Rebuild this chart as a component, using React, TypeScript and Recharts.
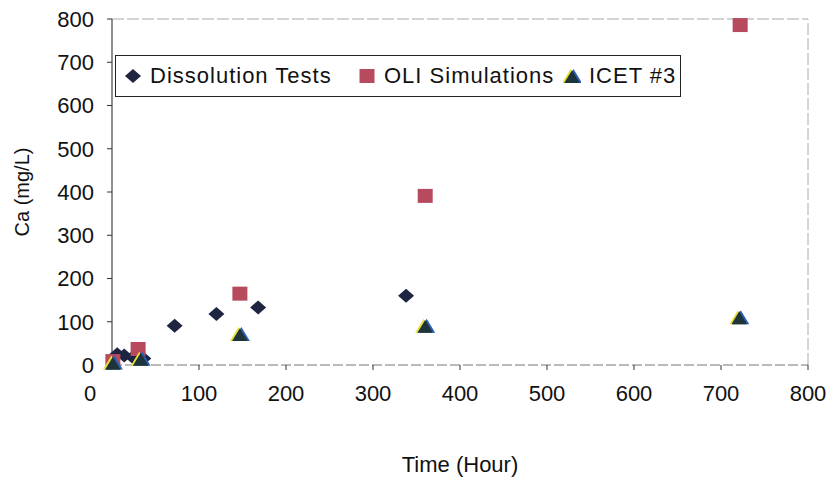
import React from 'react';
import { ScatterChart, Scatter, XAxis, YAxis, Legend, ReferenceLine } from 'recharts';

// Calcium release over time (hours vs mg/L)
const dissolutionHours = [6, 14, 24, 36, 72, 120, 168, 338];
const dissolutionCa = [25, 22, 18, 15, 91, 118, 133, 160];

const oliHours = [1, 30, 147, 360, 722];
const oliCa = [9, 37, 165, 391, 786];

const icetHours = [1, 33, 147, 360, 721];
const icetCa = [1, 10, 67, 86, 106];

const seriesNames = ['Dissolution Tests', 'OLI Simulations', 'ICET #3'];

const xTicks = [0, 100, 200, 300, 400, 500, 600, 700, 800];
const yTicks = [0, 100, 200, 300, 400, 500, 600, 700, 800];

const toPoints = (xs: number[], ys: number[]) => xs.map((x, i) => ({ x, y: ys[i] }));

const dissolutionData = toPoints(dissolutionHours, dissolutionCa);
const oliData = toPoints(oliHours, oliCa);
const icetData = toPoints(icetHours, icetCa);

const FONT = '"Liberation Sans", Arial, Helvetica, sans-serif';
const TEXT_COLOR = '#111';
const DIAMOND_COLOR = '#1e2540';
const SQUARE_COLOR = '#b84a5e';
const TRIANGLE_COLOR = '#1f3438';

function DiamondMark({ cx, cy }: any) {
  return (
    <polygon
      points={`${cx - 8},${cy} ${cx},${cy - 7} ${cx + 8},${cy} ${cx},${cy + 7}`}
      fill={DIAMOND_COLOR}
    />
  );
}

function SquareMark({ cx, cy }: any) {
  return <rect x={cx - 7.5} y={cy - 7} width={15} height={14} fill={SQUARE_COLOR} />;
}

function tri(cx: number, cy: number) {
  return `${cx},${cy - 9} ${cx - 8.5},${cy + 5} ${cx + 8.5},${cy + 5}`;
}

function TriangleMark({ cx, cy }: any) {
  return (
    <g>
      <polygon points={tri(cx - 1.5, cy)} fill="#e8e23a" />
      <polygon points={tri(cx + 1.5, cy)} fill="#2b5fb8" />
      <polygon
        points={tri(cx, cy + 0.5)}
        fill={TRIANGLE_COLOR}
        transform={`translate(${cx * 0.08},${cy * 0.08}) scale(0.92)`}
      />
    </g>
  );
}

function XTick({ x, y, payload }: any) {
  // the origin label sits a little left of its tick
  const shift = payload.value === 0 ? -22 : 0;
  return (
    <text x={x + shift} y={y} dy="0.71em" textAnchor="middle" fontSize={22} fill={TEXT_COLOR} fontFamily={FONT}>
      {payload.value}
    </text>
  );
}

function YTick({ x, y, payload }: any) {
  return (
    <text x={x} y={y} dy="0.355em" textAnchor="end" fontSize={22} fill={TEXT_COLOR} fontFamily={FONT}>
      {payload.value}
    </text>
  );
}

function LegendIcon({ name }: { name: string }) {
  return (
    <svg width={18} height={18} style={{ marginRight: 8, flex: 'none' }}>
      {name === seriesNames[0] && <DiamondMark cx={9} cy={9} />}
      {name === seriesNames[1] && <SquareMark cx={9} cy={9} />}
      {name === seriesNames[2] && <TriangleMark cx={9} cy={11} />}
    </svg>
  );
}

const itemWidths = [234, 205, undefined];

function LegendBox({ payload }: any) {
  const items = seriesNames
    .map((n) => (payload || []).find((p: any) => p.value === n))
    .filter(Boolean);
  return (
    <div
      style={{
        boxSizing: 'border-box',
        width: '100%',
        height: '100%',
        border: '1.5px solid #222',
        background: '#fff',
        display: 'flex',
        alignItems: 'center',
        paddingLeft: 8,
        fontFamily: FONT,
        fontSize: 22,
        letterSpacing: 1,
        color: TEXT_COLOR,
      }}
    >
      {items.map((item: any, i: number) => (
        <div
          key={item.value}
          style={{ display: 'flex', alignItems: 'center', width: itemWidths[i], flex: 'none' }}
        >
          <LegendIcon name={item.value} />
          <span style={{ whiteSpace: 'nowrap' }}>{item.value}</span>
        </div>
      ))}
    </div>
  );
}

export default function App() {
  return (
    <div style={{ position: 'absolute', left: 0, top: 0, width: 831, height: 480, background: '#fff' }}>
      <ScatterChart width={831} height={480} margin={{ top: 19, right: 23, bottom: 0, left: 0 }}>
        <XAxis
          type="number"
          dataKey="x"
          domain={[0, 800]}
          ticks={xTicks}
          interval={0}
          height={115}
          tickSize={5}
          tickMargin={15}
          tick={<XTick />}
          axisLine={{ stroke: '#777', strokeDasharray: '10 3', strokeWidth: 1.2 }}
          tickLine={{ stroke: '#333' }}
          label={{
            value: 'Time (Hour)',
            position: 'insideBottom',
            offset: 8,
            style: { fontFamily: FONT, fontSize: 22, fill: TEXT_COLOR },
          }}
        />
        <YAxis
          type="number"
          dataKey="y"
          domain={[0, 800]}
          ticks={yTicks}
          interval={0}
          width={112}
          tickSize={5}
          tickMargin={13}
          tick={<YTick />}
          axisLine={{ stroke: '#444', strokeWidth: 1.2 }}
          tickLine={{ stroke: '#333' }}
          label={{
            value: 'Ca (mg/L)',
            angle: -90,
            position: 'insideLeft',
            offset: 22,
            style: { fontFamily: FONT, fontSize: 20, fill: TEXT_COLOR, textAnchor: 'middle' },
          }}
        />
        <ReferenceLine y={800} stroke="#aaa" strokeDasharray="12 3" />
        <ReferenceLine x={800} stroke="#aaa" strokeDasharray="12 3" />
        <Legend
          layout="horizontal"
          verticalAlign="middle"
          align="center"
          content={<LegendBox />}
          wrapperStyle={{ position: 'absolute', left: 115, top: 55, width: 566, height: 42 }}
        />
        <Scatter name={seriesNames[0]} data={dissolutionData} fill={DIAMOND_COLOR} shape={<DiamondMark />} isAnimationActive={false} />
        <Scatter name={seriesNames[1]} data={oliData} fill={SQUARE_COLOR} shape={<SquareMark />} isAnimationActive={false} />
        <Scatter name={seriesNames[2]} data={icetData} fill={TRIANGLE_COLOR} shape={<TriangleMark />} isAnimationActive={false} />
      </ScatterChart>
    </div>
  );
}
